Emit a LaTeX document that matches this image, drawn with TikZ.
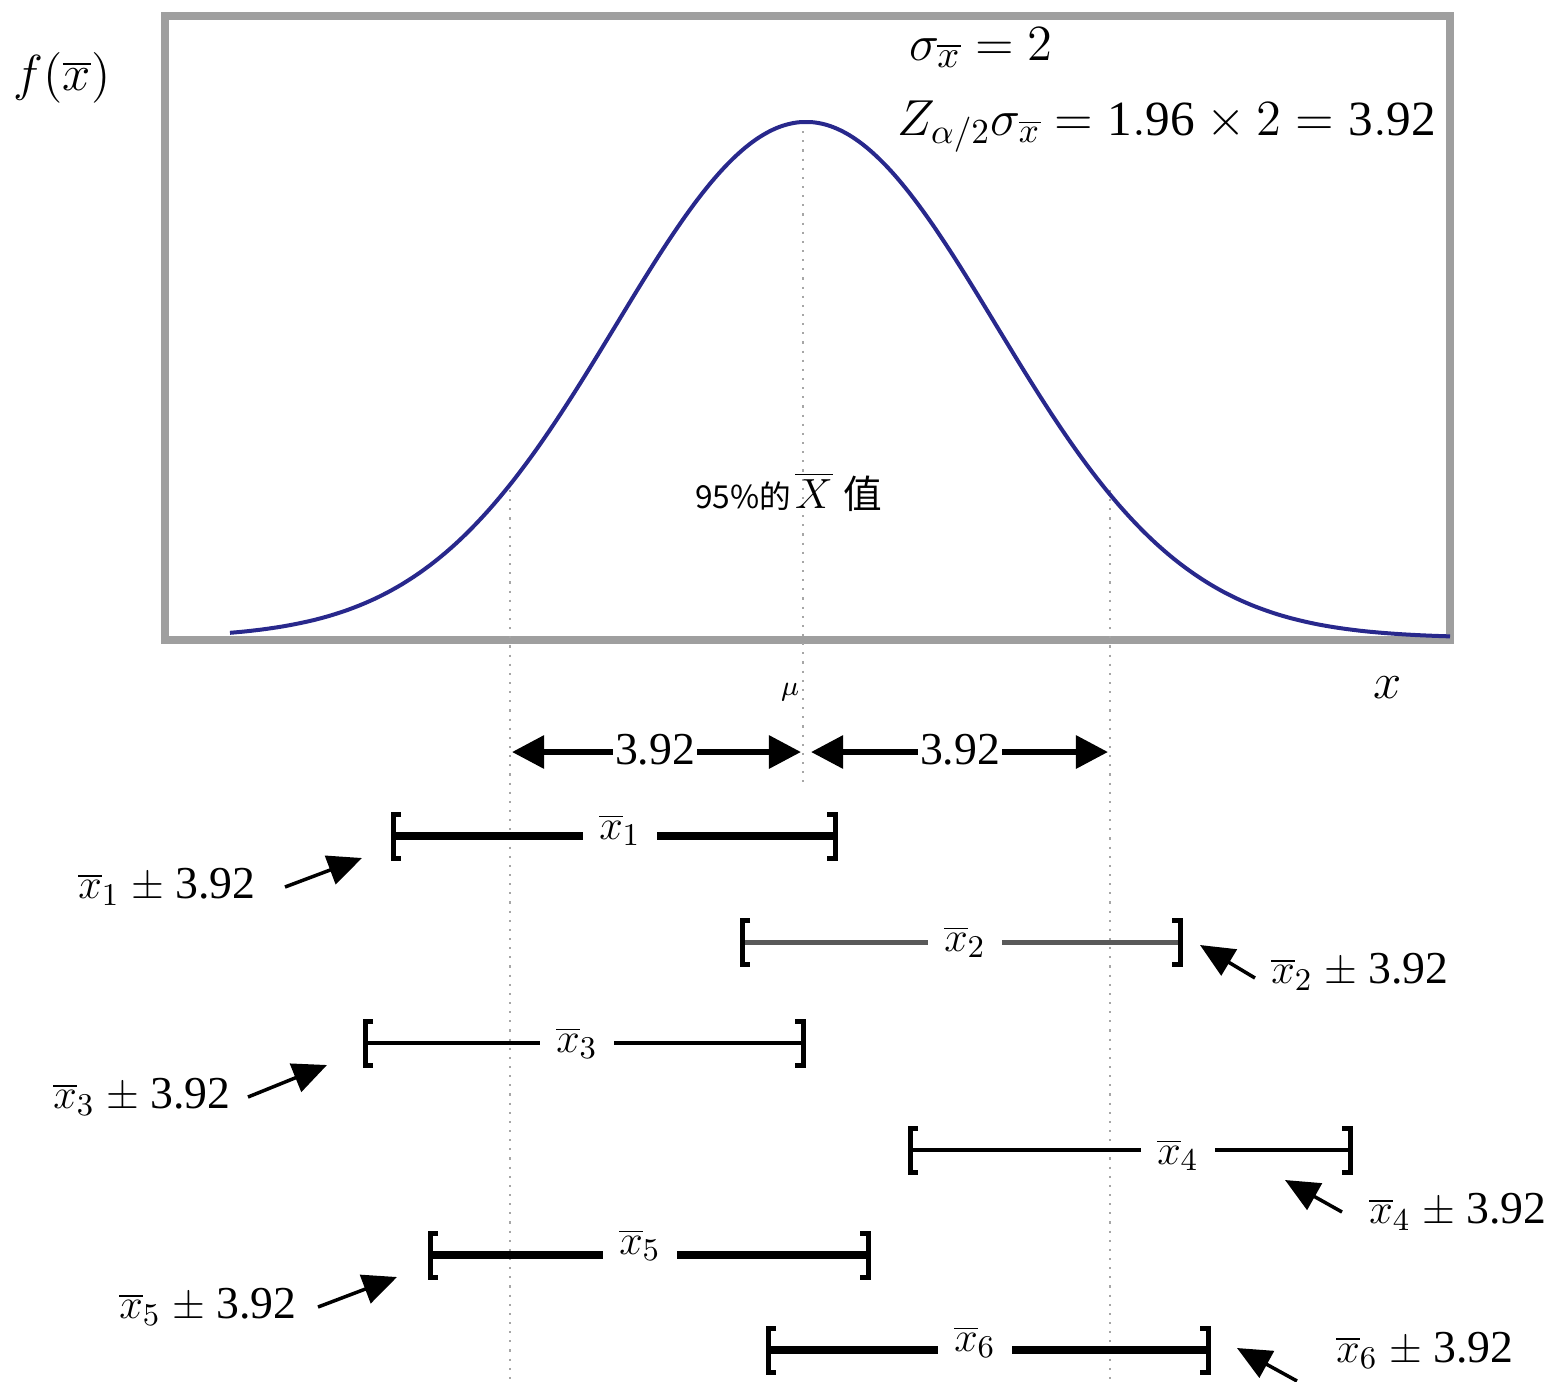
\documentclass[tikz,border=0pt]{standalone}
\usepackage{fontspec}
\setmainfont{Liberation Serif}
\newfontfamily\cjk{Noto Sans CJK SC}
\usetikzlibrary{arrows.meta}
\begin{document}
\begin{tikzpicture}[x=0.01cm,y=-0.01cm,
  lbl/.style={font=\fontsize{13}{15}\selectfont, inner sep=1pt},
  eq/.style={font=\fontsize{14}{16}\selectfont, inner sep=1pt},
  ivlabel/.style={font=\fontsize{12.5}{14}\selectfont, inner xsep=0.16cm, inner ysep=0pt},
  dimlabel/.style={font=\fontsize{13}{15}\selectfont, fill=white, inner sep=0.5pt},
  guide/.style={gray!70, line width=0.6pt, dotted},
  dimarrow/.style={line width=0.06cm, {Triangle[length=0.32cm,width=0.32cm]}-{Triangle[length=0.32cm,width=0.32cm]}},
  callout/.style={line width=0.035cm, -{Triangle[length=0.34cm,width=0.3cm]}},
  brk/.style={line width=0.05cm, line cap=butt}]
\useasboundingbox (0,0) rectangle (1555,1381);
% frame
\draw[line width=0.08cm, gray!75] (165,16) rectangle (1450,640);
% guides
\coordinate (gL1) at (510,490); \coordinate (gL2) at (510,1381);
\coordinate (gM1) at (803,122); \coordinate (gM2) at (803,785);
\coordinate (gR1) at (1110,490); \coordinate (gR2) at (1110,1381);
\draw[guide] (gL1) -- (gL2);
\draw[guide] (gM1) -- (gM2);
\draw[guide] (gR1) -- (gR2);
% curve
\draw[line width=0.04cm, color={rgb,255:red,40;green,40;blue,140}]
  plot[domain=230:1450, samples=200, smooth] (\x, {638-516*exp(-0.5*((\x-806)/190)*((\x-806)/190))});
% texts top
\node[eq, font=\fontsize{14}{16}\selectfont] (fx) at (62,78) {$f(\overline{x})$};
\node[eq, font=\fontsize{15}{17}\selectfont, anchor=base west] (sig) at (905,60) {$\sigma_{\overline{x}}=2$};
\node[eq, anchor=base west] (z) at (893,135) {$Z_{\alpha/2}\sigma_{\overline{x}}=\mathrm{1.96}\times 2=\mathrm{3.92}$};
\node[inner sep=0pt, anchor=base east] (p95) at (792,508) {\cjk\fontsize{9}{10}\selectfont 95\%的};
\node[inner sep=0pt, anchor=base] (xbar) at (814,508) {\fontsize{13}{15}\selectfont$\overline{X}$};
\node[inner sep=0pt, anchor=base west] (zhi) at (843,508) {\cjk\fontsize{11}{12}\selectfont 值};
\node[font=\fontsize{8}{9}\selectfont, inner sep=0pt] (mu) at (790,692) {$\mu$};
\node[eq] (xax) at (1388,688) {$x$};
% dimension arrows
\coordinate (a1) at (512,752); \coordinate (a2) at (801,752);
\coordinate (a3) at (811,752); \coordinate (a4) at (1108,752);
\draw[dimarrow] (a1) -- (a2);
\draw[dimarrow] (a3) -- (a4);
\node[dimlabel] (d1) at (655,750) {3.92};
\node[dimlabel] (d2) at (960,750) {3.92};
% intervals
\foreach \i/\l/\r/\y/\w/\lx/\ly/\col in
  {1/393/835/836/0.08/620/830/black,
   2/742/1180/942/0.05/965/942/black!65,
   3/365/803/1043/0.04/577/1043/black,
   4/910/1350/1150/0.045/1178/1155/black,
   5/430/868/1255/0.08/640/1245/black,
   6/768/1208/1350/0.08/975/1342/black}{
  \coordinate (L\i) at (\l,\y);
  \coordinate (R\i) at (\r,\y);
  \node[ivlabel] (m\i) at (\lx,\ly) {$\overline{x}_{\i}$};
  \draw[line width=\w cm, \col] (L\i) -- (L\i -| m\i.west);
  \draw[line width=\w cm, \col] (R\i -| m\i.east) -- (R\i);
  \draw[brk] ([xshift=0.08cm,yshift=0.22cm]L\i) -- ([yshift=0.22cm]L\i) -- ([yshift=-0.22cm]L\i) -- ([xshift=0.08cm,yshift=-0.22cm]L\i);
  \draw[brk] ([xshift=-0.08cm,yshift=0.22cm]R\i) -- ([yshift=0.22cm]R\i) -- ([yshift=-0.22cm]R\i) -- ([xshift=-0.08cm,yshift=-0.22cm]R\i);
}
% callouts
\node[lbl] (c1) at (167,887) {$\overline{x}_1$ $\pm$ 3.92};
\node[lbl] (c2) at (1360,972) {$\overline{x}_2$ $\pm$ 3.92};
\node[lbl] (c3) at (142,1097) {$\overline{x}_3$ $\pm$ 3.92};
\node[lbl] (c4) at (1458,1212) {$\overline{x}_4$ $\pm$ 3.92};
\node[lbl] (c5) at (208,1307) {$\overline{x}_5$ $\pm$ 3.92};
\node[lbl] (c6) at (1425,1350) {$\overline{x}_6$ $\pm$ 3.92};
\coordinate (s1) at (285,887); \coordinate (t1) at (362,858);
\coordinate (s2) at (1255,978); \coordinate (t2) at (1200,945);
\coordinate (s3) at (248,1097); \coordinate (t3) at (327,1065);
\coordinate (s4) at (1342,1212); \coordinate (t4) at (1285,1180);
\coordinate (s5) at (318,1307); \coordinate (t5) at (397,1277);
\coordinate (s6) at (1297,1381); \coordinate (t6) at (1237,1348);
\foreach \i in {1,...,6}{\draw[callout] (s\i) -- (t\i);}
\end{tikzpicture}
\end{document}
